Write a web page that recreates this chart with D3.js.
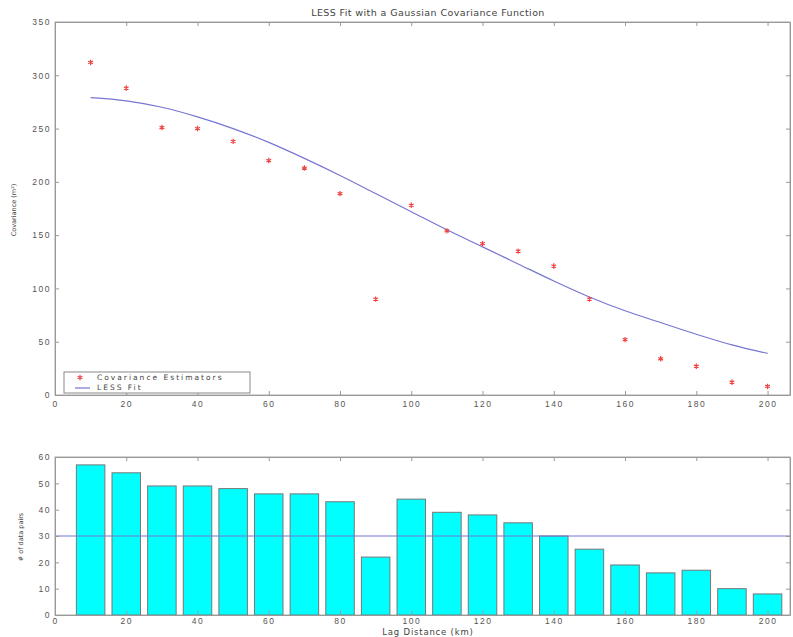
<!DOCTYPE html>
<html lang="en">
  <head>
    <meta charset="utf-8">
    <script src="https://cdnjs.cloudflare.com/ajax/libs/d3/7.8.5/d3.min.js"></script>
    <style>
      body { margin: 0; background: #fff; }
      svg { font-family: "DejaVu Sans", sans-serif; }
      .axis text { font-size: 8.5px; fill: #555; letter-spacing: 1.5px; }
      .axis path, .axis line { stroke: #999; }
      .frame { fill: none; stroke: #aaa; stroke-width: 1; }
      .label { fill: #444; }
    </style>
  </head>
  <body>
  <script>
  // lag distances (km)
  var lags = [10, 20, 30, 40, 50, 60, 70, 80, 90, 100,
              110, 120, 130, 140, 150, 160, 170, 180, 190, 200];
  // covariance estimators (m^2)
  var estimators = [312, 288, 251, 250, 238, 220, 213, 189, 90, 178,
                    154, 142, 135, 121, 90, 52, 34, 27, 12, 8];
  // LESS fit
  var lessFit = [279, 276, 270, 261, 250, 237, 222, 206, 189, 172,
                 155, 139, 123, 107, 92, 79, 68, 57, 47, 39];
  // number of data pairs per lag
  var pairs = [57, 54, 49, 49, 48, 46, 46, 43, 22, 44,
               39, 38, 35, 30, 25, 19, 16, 17, 10, 8];
  var pairsMin = 30;

  var xTicks = d3.range(0, 201, 20);
  var covTicks = d3.range(0, 351, 50);
  var pairTicks = d3.range(0, 61, 10);

  var width = 793, height = 637;

  var svg = d3.select('body')
    .append('svg')
    .attr('width', width)
    .attr('height', height);

  var left = 55, right = 790;

  var x = d3.scaleLinear()
    .domain([0, 206.3])
    .range([left, right]);

  // ---------- top panel ----------
  var top1 = 22, bot1 = 395;
  var y1 = d3.scaleLinear().domain([0, 350]).range([bot1, top1]);

  svg.append('rect').attr('class', 'frame')
    .attr('x', left).attr('y', top1)
    .attr('width', right - left).attr('height', bot1 - top1);

  svg.append('g').attr('class', 'axis')
    .attr('transform', 'translate(0,' + bot1 + ')')
    .call(d3.axisBottom(x).tickValues(xTicks).tickSizeInner(-4).tickSizeOuter(0).tickPadding(6));
  svg.append('g').attr('class', 'axis')
    .attr('transform', 'translate(0,' + top1 + ')')
    .call(d3.axisTop(x).tickValues(xTicks).tickSizeInner(-4).tickSizeOuter(0).tickFormat(''));
  svg.append('g').attr('class', 'axis')
    .attr('transform', 'translate(' + left + ',0)')
    .call(d3.axisLeft(y1).tickValues(covTicks).tickSizeInner(-4).tickSizeOuter(0).tickPadding(4));
  svg.append('g').attr('class', 'axis')
    .attr('transform', 'translate(' + right + ',0)')
    .call(d3.axisRight(y1).tickValues(covTicks).tickSizeInner(-4).tickSizeOuter(0).tickFormat(''));

  svg.append('text').attr('class', 'label')
    .attr('x', 428).attr('y', 16)
    .attr('text-anchor', 'middle')
    .style('font-size', '9.5px')
    .style('letter-spacing', '0.4px')
    .text('LESS Fit with a Gaussian Covariance Function');

  svg.append('text').attr('class', 'label')
    .attr('transform', 'translate(16,' + 210 + ') rotate(-90)')
    .attr('text-anchor', 'middle')
    .style('font-size', '6.5px')
    .text('Covariance (m²)');

  var line = d3.line()
    .x((d, i) => x(lags[i]))
    .y(d => y1(d))
    .curve(d3.curveMonotoneX);

  svg.append('path')
    .datum(lessFit)
    .attr('d', line)
    .attr('fill', 'none')
    .attr('stroke', '#7676d2')
    .attr('stroke-width', 1.2);

  var star = d3.symbol().type(d3.symbolAsterisk).size(20);

  svg.append('g').selectAll('path')
    .data(estimators)
    .enter().append('path')
    .attr('transform', (d, i) => 'translate(' + x(lags[i]) + ',' + y1(d) + ')')
    .attr('d', star)
    .attr('fill', 'none')
    .attr('stroke', '#e44')
    .attr('stroke-width', 1.2);

  // legend
  var lg = svg.append('g').attr('transform', 'translate(64,372)');
  lg.append('rect')
    .attr('width', 186).attr('height', 21)
    .attr('fill', '#fff').attr('stroke', '#888');
  lg.append('path')
    .attr('transform', 'translate(16,5.5)')
    .attr('d', star)
    .attr('fill', 'none').attr('stroke', '#e44').attr('stroke-width', 1.2);
  lg.append('line')
    .attr('x1', 11).attr('x2', 26).attr('y1', 16).attr('y2', 16)
    .attr('stroke', '#7676d2').attr('stroke-width', 1.2);
  lg.append('text').attr('class', 'label')
    .attr('x', 33).attr('y', 8)
    .style('font-size', '7.5px')
    .style('letter-spacing', '2px')
    .text('Covariance Estimators');
  lg.append('text').attr('class', 'label')
    .attr('x', 33).attr('y', 18)
    .style('font-size', '7.5px')
    .style('letter-spacing', '2px')
    .text('LESS Fit');

  // ---------- bottom panel ----------
  var top2 = 457, bot2 = 615;
  var y2 = d3.scaleLinear().domain([0, 60]).range([bot2, top2]);

  svg.append('rect').attr('class', 'frame')
    .attr('x', left).attr('y', top2)
    .attr('width', right - left).attr('height', bot2 - top2);

  var barW = x(8) - x(0);

  svg.append('g').selectAll('rect')
    .data(pairs)
    .enter().append('rect')
    .attr('x', (d, i) => x(lags[i]) - barW / 2)
    .attr('y', d => y2(d))
    .attr('width', barW)
    .attr('height', d => bot2 - y2(d))
    .attr('fill', '#00ffff')
    .attr('stroke', '#777')
    .attr('stroke-width', 1);

  svg.append('line')
    .attr('x1', left).attr('x2', right)
    .attr('y1', y2(pairsMin)).attr('y2', y2(pairsMin))
    .attr('stroke', '#7676d2')
    .attr('stroke-width', 1);

  svg.append('g').attr('class', 'axis')
    .attr('transform', 'translate(0,' + bot2 + ')')
    .call(d3.axisBottom(x).tickValues(xTicks).tickSizeInner(-4).tickSizeOuter(0).tickPadding(3));
  svg.append('g').attr('class', 'axis')
    .attr('transform', 'translate(0,' + top2 + ')')
    .call(d3.axisTop(x).tickValues(xTicks).tickSizeInner(-4).tickSizeOuter(0).tickFormat(''));
  svg.append('g').attr('class', 'axis')
    .attr('transform', 'translate(' + left + ',0)')
    .call(d3.axisLeft(y2).tickValues(pairTicks).tickSizeInner(-4).tickSizeOuter(0).tickPadding(4));
  svg.append('g').attr('class', 'axis')
    .attr('transform', 'translate(' + right + ',0)')
    .call(d3.axisRight(y2).tickValues(pairTicks).tickSizeInner(-4).tickSizeOuter(0).tickFormat(''));

  svg.append('text').attr('class', 'label')
    .attr('x', 428).attr('y', 635)
    .attr('text-anchor', 'middle')
    .style('font-size', '8.5px')
    .style('letter-spacing', '0.8px')
    .text('Lag Distance (km)');

  svg.append('text').attr('class', 'label')
    .attr('transform', 'translate(23,' + 537 + ') rotate(-90)')
    .attr('text-anchor', 'middle')
    .style('font-size', '6.5px')
    .text('# of data pairs');
  </script>
  </body>
</html>
